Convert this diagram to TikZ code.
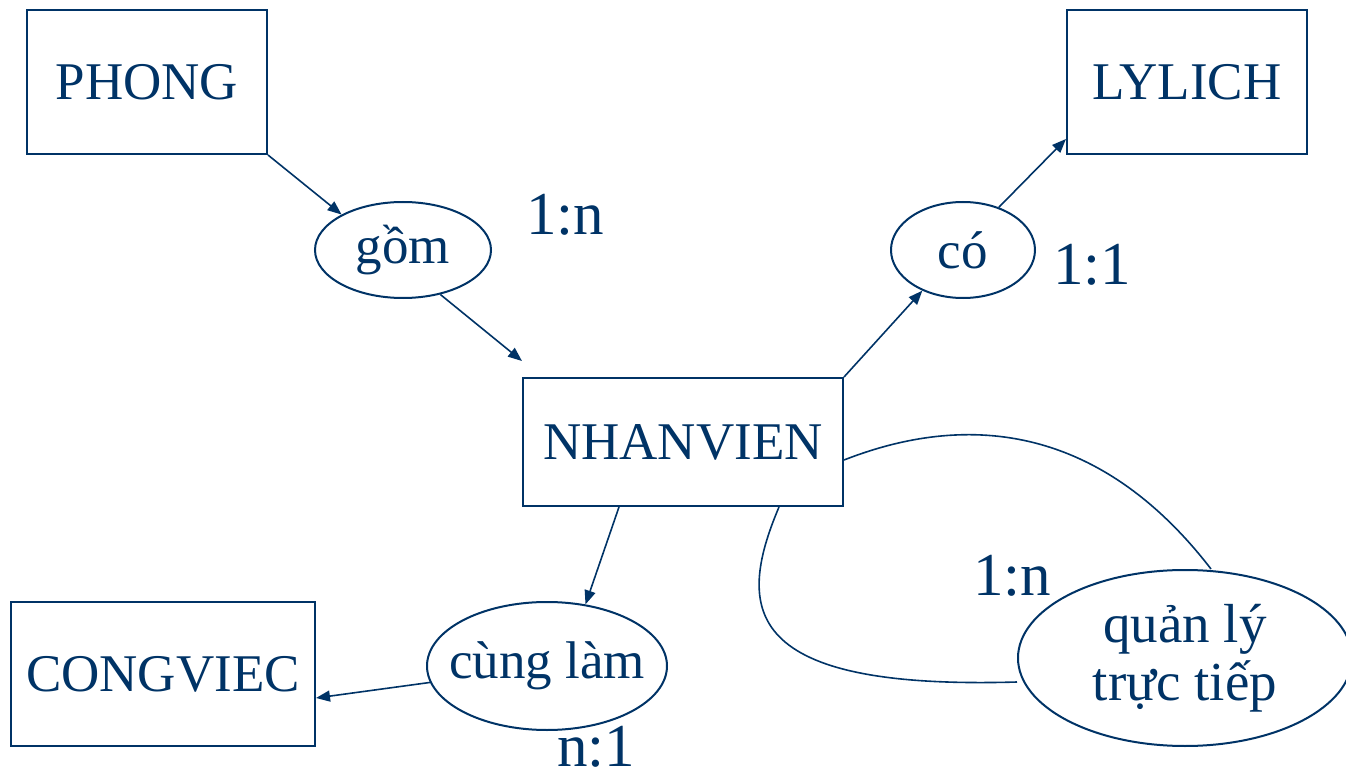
\documentclass[tikz,border=0pt]{standalone}
\usepackage{fontspec}
\setmainfont{Liberation Serif}
\usepackage{xcolor}
\usepackage{tikz}
\usetikzlibrary{shapes.geometric,arrows.meta}
\definecolor{xanhdam}{HTML}{003366}

\begin{document}
\begin{tikzpicture}[
					x=0.5pt, y=-0.5pt, % 1 don vi = 1 pixel cua hinh goc
					thucthe/.style={        % Thuc the (hinh chu nhat)
						draw=xanhdam,
						line width=1pt,
						text=xanhdam,
						minimum width=120pt,
						minimum height=72pt,
						font=\fontsize{26.5}{30}\selectfont,
						anchor=center
					},
					moiqh/.style={          % Moi quan he (hinh elip)
						ellipse,
						draw=xanhdam,
						line width=1pt,
						text=xanhdam,
						inner xsep=-12pt, inner ysep=0pt,
						align=center,
						font=\fontsize{26.5}{29}\selectfont
					},
					tile/.style={           % Ti le 1:n, 1:1 ...
						text=xanhdam,
						inner sep=0pt,
						font=\fontsize{30.5}{34}\selectfont
					},
					noi/.style={            % Mui ten noi
						-{Triangle[length=7pt,width=5.5pt]},
						draw=xanhdam, line width=0.8pt
					},
					cong/.style={           % Duong cong khong mui ten
						draw=xanhdam, line width=0.8pt
					}
					]
					\useasboundingbox (0,0) rectangle (1346,781);
					
					% --- THUC THE ---
					\node[thucthe] (phong) at (147,82) {PHONG};
					\node[thucthe] (lylich) at (1187,82) {LYLICH};
					\node[thucthe, minimum width=160pt, minimum height=64pt] (nhanvien) at (683,442) {NHANVIEN};
					\node[thucthe, minimum width=152pt] (congviec) at (163,674) {CONGVIEC};
					
					% --- MOI QUAN HE ---
					\node[moiqh, minimum width=88pt, minimum height=48pt] (gom) at (403,250) {gồm};
					\node[moiqh, minimum width=72pt, minimum height=48pt] (co) at (963,250) {có};
					\node[moiqh, minimum width=120pt, minimum height=64pt] (cunglam) at (547,666) {cùng làm};
					\node[moiqh, minimum width=167pt, minimum height=88pt, font=\fontsize{27.5}{29}\selectfont] (quanly) at (1185,658) {quản lý\\trực tiếp};
					
					% --- TI LE ---
					\foreach \ten/\x/\y/\tl in {tl1/565/215/1:n, tl2/1092/265/1:1, tl3/1012/576/1:n, tl4/596/747/n:1} {
						\node[tile] (\ten) at (\x,\y) {\tl};
					}
					
					% --- MUI TEN ---
					\draw[noi] (phong.south east) -- (gom.150);
					\draw[noi] (gom.-50) -- ([yshift=8pt]nhanvien.north west);
					\draw[noi] (nhanvien.north east) -- (co.-135);
					\draw[noi] (co.50) -- ([yshift=8pt]lylich.south west);
					\draw[noi] ([xshift=-32pt]nhanvien.south) -- (cunglam.58);
					\draw[noi] (cunglam.188) -- ([yshift=-12pt]congviec.east);
					
					% Quan ly truc tiep: hai duong cong
					\draw[cong] ([yshift=-9pt]nhanvien.east) .. controls +(87,-34) and +(-131,-170) .. ([xshift=13pt]quanly.north);
					\draw[cong] ([xshift=48pt]nhanvien.south) .. controls +(-44,104) and +(-273,8) .. ([yshift=-12pt]quanly.west);
					
				\end{tikzpicture}
\end{document}
